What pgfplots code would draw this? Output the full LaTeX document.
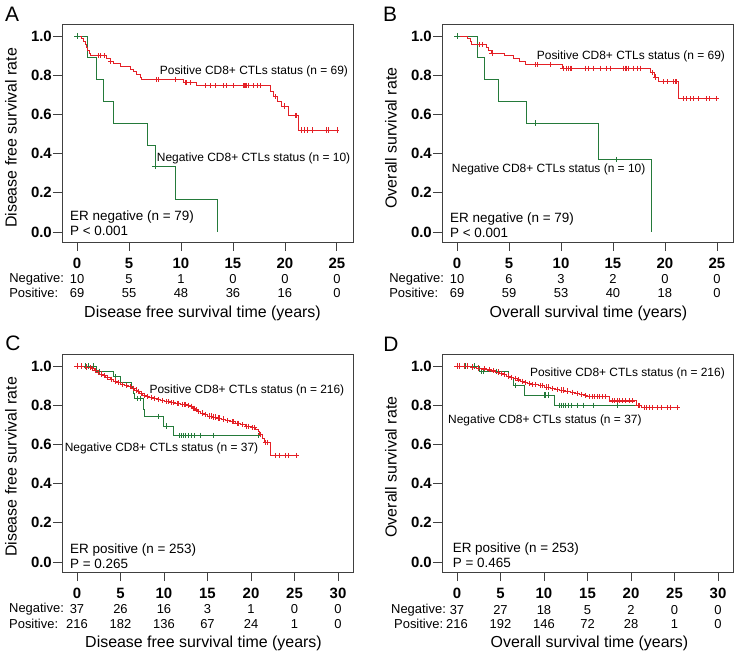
\documentclass[border=0pt]{standalone}
\usepackage{fontspec}
\setmainfont{Liberation Sans}
\usepackage{pgfplots}
\pgfplotsset{compat=1.18}
\usetikzlibrary{calc}

\definecolor{kmred}{RGB}{228,32,38}
\definecolor{kmgreen}{RGB}{36,122,58}
\newcommand\fs[1]{\fontsize{#1}{#1}\selectfont}

\pgfplotsset{
  km/.style={
    scale only axis, width=291bp, height=218bp,
    ymin=-0.051, ymax=1.061,
    ytick={0,0.2,0.4,0.6,0.8,1},
    tick pos=left, tick align=outside, major tick length=9bp,
    axis line style={draw=black!75, line width=0.8pt},
    tick style={draw=black!75, line width=0.8pt},
    tick label style={font=\fs{15}\bfseries},
    /pgf/number format/assume math mode=true,
    yticklabel style={/pgf/number format/fixed, /pgf/number format/fixed zerofill,
      /pgf/number format/precision=1, inner xsep=1pt},
    xticklabel style={yshift=-3.5bp},
    clip=false,
  },
  kmab/.style={km, xmin=-1.45, xmax=26.55, xtick={0,5,10,15,20,25}},
  kmcd/.style={km, xmin=-1.72, xmax=31.72, xtick={0,5,10,15,20,25,30}},
}
\tikzset{
  kmline/.style={const plot, line width=0.8pt, no markers},
  kmcens/.style={only marks, mark=+, mark size=2.6bp, mark options={line width=0.7pt}},
  ann/.style={font=\fs{12}, inner sep=0pt, anchor=west},
  er/.style={font=\fs{13.5}, inner sep=0pt, anchor=west},
  rk/.style={font=\fs{13}, inner sep=0pt},
  rl/.style={font=\fs{13}, inner sep=0pt, anchor=west, xshift=-68bp},
  lab/.style={font=\fs{16}, inner sep=0pt},
  let/.style={font=\fs{21}, inner sep=0pt},
}

\begin{document}
\begin{tikzpicture}
\path[use as bounding box] (0,0) rectangle (739bp,658bp);

% ---------------- A ----------------
\begin{axis}[kmab, at={(62bp,416bp)}, anchor=south west]
\addplot[kmgreen, kmline] coordinates {(0,1)(0.97,0.889)(1.87,0.778)(2.53,0.667)(3.47,0.556)(6.73,0.444)(7.5,0.333)(9.49,0.167)(13.55,0)};
\addplot[kmgreen, kmcens] coordinates {(0,1)(7.5,0.333)};
\addplot[kmred, kmline] coordinates {(0,1)(0.45,0.986)(0.61,0.971)(0.77,0.957)(0.87,0.942)(0.99,0.928)(1.19,0.913)(1.3,0.899)(2.85,0.885)(3.17,0.871)(3.5,0.858)(4.13,0.844)(5.1,0.831)(5.4,0.817)(5.7,0.804)(6.06,0.790)(6.2,0.777)(10.2,0.762)(11.5,0.746)(18.56,0.718)(18.9,0.690)(19.3,0.667)(19.7,0.643)(20.3,0.594)(21.3,0.520)(25.0,0.520)};
\addplot[kmred, kmcens] coordinates {(2.05,0.899)(2.21,0.899)(2.63,0.899)(3.25,0.871)(7.66,0.777)(7.8,0.777)(9.5,0.777)(10.4,0.762)(10.55,0.762)(10.9,0.762)(12.3,0.746)(12.8,0.746)(13.3,0.746)(14.1,0.746)(14.4,0.746)(15.0,0.746)(16.0,0.746)(16.1,0.746)(16.2,0.746)(16.3,0.746)(16.45,0.746)(17.0,0.746)(17.3,0.746)(17.6,0.746)(19.1,0.690)(19.9,0.643)(21.0,0.594)(21.1,0.594)(21.6,0.520)(21.9,0.520)(22.2,0.520)(22.6,0.520)(24.0,0.520)(24.2,0.520)(25.0,0.520)};
\node[ann] at (axis cs:7.95,0.82) {Positive CD8+ CTLs status (n = 69)};
\node[ann] at (axis cs:7.66,0.375) {Negative CD8+ CTLs status (n = 10)};
\node[er] at (axis cs:-0.68,0.078) {ER negative (n = 79)};
\node[er] at (axis cs:-0.68,0.005) {P < 0.001};
\node[rl] at (axis cs:0,-0.24) {Negative:};
\node[rl] at (axis cs:0,-0.312) {Positive:};
\node[rk] at (axis cs:0,-0.24) {10};
\node[rk] at (axis cs:5,-0.24) {5};
\node[rk] at (axis cs:10,-0.24) {1};
\node[rk] at (axis cs:15,-0.24) {0};
\node[rk] at (axis cs:20,-0.24) {0};
\node[rk] at (axis cs:25,-0.24) {0};
\node[rk] at (axis cs:0,-0.312) {69};
\node[rk] at (axis cs:5,-0.312) {55};
\node[rk] at (axis cs:10,-0.312) {48};
\node[rk] at (axis cs:15,-0.312) {36};
\node[rk] at (axis cs:20,-0.312) {16};
\node[rk] at (axis cs:25,-0.312) {0};
\node[lab] at ($(rel axis cs:0.5,0)+(-5bp,-71bp)$) {Disease free survival time (years)};
\node[lab, rotate=90] at ($(rel axis cs:0,0.5)+(-51bp,-5bp)$) {Disease free survival rate};
\node[let] at ($(rel axis cs:0,1)+(-50bp,10bp)$) {A};
\end{axis}

% ---------------- B ----------------
\begin{axis}[kmab, at={(442bp,416bp)}, anchor=south west]
\addplot[kmgreen, kmline] coordinates {(0,1)(1.95,0.889)(2.6,0.778)(3.97,0.667)(6.63,0.556)(13.6,0.370)(18.65,0)};
\addplot[kmgreen, kmcens] coordinates {(0,1)(7.56,0.556)(15.3,0.370)};
\addplot[kmred, kmline] coordinates {(0,1)(1.03,0.986)(1.3,0.971)(1.4,0.957)(2.85,0.942)(3.05,0.928)(3.3,0.913)(4.6,0.899)(5.4,0.884)(6.0,0.868)(6.6,0.853)(10.1,0.836)(18.56,0.814)(19.0,0.791)(19.4,0.766)(21.3,0.680)(24.97,0.680)};
\addplot[kmred, kmcens] coordinates {(2.1,0.957)(2.4,0.957)(3.35,0.913)(7.56,0.853)(7.72,0.853)(8.94,0.853)(10.2,0.836)(10.5,0.836)(10.7,0.836)(10.9,0.836)(11.0,0.836)(12.3,0.836)(12.6,0.836)(13.1,0.836)(13.75,0.836)(14.4,0.836)(14.7,0.836)(16.0,0.836)(16.15,0.836)(16.3,0.836)(16.5,0.836)(16.95,0.836)(17.3,0.836)(17.6,0.836)(18.8,0.814)(19.1,0.791)(19.8,0.766)(20.2,0.766)(20.8,0.766)(20.96,0.766)(21.1,0.766)(21.76,0.680)(22.1,0.680)(22.4,0.680)(22.7,0.680)(23.2,0.680)(24.0,0.680)(24.3,0.680)(24.97,0.680)};
\node[ann] at (axis cs:7.66,0.897) {Positive CD8+ CTLs status (n = 69)};
\node[ann] at (axis cs:-0.51,0.32) {Negative CD8+ CTLs status (n = 10)};
\node[er] at (axis cs:-0.68,0.066) {ER negative (n = 79)};
\node[er] at (axis cs:-0.68,-0.004) {P < 0.001};
\node[rl] at (axis cs:0,-0.24) {Negative:};
\node[rl] at (axis cs:0,-0.312) {Positive:};
\node[rk] at (axis cs:0,-0.24) {10};
\node[rk] at (axis cs:5,-0.24) {6};
\node[rk] at (axis cs:10,-0.24) {3};
\node[rk] at (axis cs:15,-0.24) {2};
\node[rk] at (axis cs:20,-0.24) {0};
\node[rk] at (axis cs:25,-0.24) {0};
\node[rk] at (axis cs:0,-0.312) {69};
\node[rk] at (axis cs:5,-0.312) {59};
\node[rk] at (axis cs:10,-0.312) {53};
\node[rk] at (axis cs:15,-0.312) {40};
\node[rk] at (axis cs:20,-0.312) {18};
\node[rk] at (axis cs:25,-0.312) {0};
\node[lab] at ($(rel axis cs:0.5,0)+(1bp,-71bp)$) {Overall survival time (years)};
\node[lab, rotate=90] at ($(rel axis cs:0,0.5)+(-51bp,-5bp)$) {Overall survival rate};
\node[let] at ($(rel axis cs:0,1)+(-52bp,10bp)$) {B};
\end{axis}

% ---------------- C ----------------
\begin{axis}[kmcd, at={(62bp,86bp)}, anchor=south west]
\addplot[kmgreen, kmline] coordinates {(0,1)(2.2,0.973)(4.2,0.946)(5.0,0.918)(6.3,0.890)(6.45,0.862)(6.6,0.834)(7.6,0.806)(7.65,0.778)(7.7,0.742)(9.9,0.694)(11.1,0.646)(20.9,0.646)};
\addplot[kmgreen, kmcens] coordinates {(1.0,1)(1.3,1)(1.85,1)(2.6,0.973)(4.4,0.946)(6.9,0.834)(7.3,0.834)(9.3,0.742)(10.3,0.694)(11.8,0.646)(12.0,0.646)(12.2,0.646)(12.5,0.646)(12.8,0.646)(13.1,0.646)(13.5,0.646)(14.2,0.646)(15.7,0.646)(20.9,0.646)};
\addplot[kmred, kmline] coordinates {(0,1)(0.8,0.995)(1.3,0.991)(1.6,0.986)(2.0,0.977)(2.3,0.968)(2.6,0.959)(3.0,0.950)(3.3,0.941)(3.8,0.932)(4.2,0.923)(4.6,0.914)(5.0,0.905)(5.5,0.900)(5.9,0.895)(6.3,0.886)(6.6,0.877)(6.9,0.868)(7.2,0.859)(7.5,0.850)(7.9,0.845)(8.3,0.840)(8.7,0.835)(9.2,0.829)(9.6,0.823)(10.1,0.818)(10.7,0.813)(11.3,0.808)(11.9,0.804)(12.6,0.800)(13.0,0.794)(13.3,0.785)(13.6,0.776)(13.9,0.768)(14.2,0.760)(14.6,0.752)(15.0,0.745)(15.5,0.740)(16.0,0.735)(16.6,0.729)(17.1,0.722)(17.6,0.715)(18.2,0.708)(18.8,0.700)(19.3,0.692)(20.0,0.686)(20.5,0.678)(20.8,0.665)(21.0,0.650)(21.3,0.630)(21.5,0.610)(22.2,0.543)(25.2,0.543)};
\addplot[kmred, kmcens] coordinates {(0,1.0)(0.5,1.0)(1.1,0.995)(1.5,0.991)(1.8,0.986)(2.1,0.977)(2.4,0.968)(2.8,0.959)(3.1,0.950)(3.5,0.941)(3.9,0.932)(4.4,0.923)(4.8,0.914)(5.2,0.905)(5.7,0.900)(6.1,0.895)(6.5,0.886)(6.8,0.877)(7.1,0.868)(7.4,0.859)(7.7,0.850)(8.1,0.845)(8.5,0.840)(8.9,0.835)(9.4,0.829)(9.8,0.823)(10.3,0.818)(10.5,0.818)(10.9,0.813)(11.1,0.813)(11.5,0.808)(11.7,0.808)(12.1,0.804)(12.3,0.804)(12.5,0.804)(12.8,0.800)(13.1,0.794)(13.2,0.794)(13.4,0.785)(13.5,0.785)(13.7,0.776)(14.0,0.768)(14.4,0.760)(14.8,0.752)(15.2,0.745)(15.4,0.745)(15.7,0.740)(15.9,0.740)(16.2,0.735)(16.4,0.735)(16.8,0.729)(17.3,0.722)(17.8,0.715)(18.0,0.715)(18.4,0.708)(18.6,0.708)(19.0,0.700)(19.5,0.692)(19.7,0.692)(20.2,0.686)(20.4,0.686)(21.1,0.650)(21.7,0.610)(21.9,0.610)(22.8,0.543)(23.2,0.543)(24.0,0.543)(24.3,0.543)(25.2,0.543)};
\node[ann] at (axis cs:8.32,0.877) {Positive CD8+ CTLs status (n = 216)};
\node[ann] at (axis cs:-1.42,0.577) {Negative CD8+ CTLs status (n = 37)};
\node[er] at (axis cs:-0.80,0.063) {ER positive (n = 253)};
\node[er] at (axis cs:-0.80,-0.012) {P = 0.265};
\node[rl] at (axis cs:0,-0.24) {Negative:};
\node[rl] at (axis cs:0,-0.318) {Positive:};
\node[rk] at (axis cs:0,-0.24) {37};
\node[rk] at (axis cs:5,-0.24) {26};
\node[rk] at (axis cs:10,-0.24) {16};
\node[rk] at (axis cs:15,-0.24) {3};
\node[rk] at (axis cs:20,-0.24) {1};
\node[rk] at (axis cs:25,-0.24) {0};
\node[rk] at (axis cs:30,-0.24) {0};
\node[rk] at (axis cs:0,-0.318) {216};
\node[rk] at (axis cs:5,-0.318) {182};
\node[rk] at (axis cs:10,-0.318) {136};
\node[rk] at (axis cs:15,-0.318) {67};
\node[rk] at (axis cs:20,-0.318) {24};
\node[rk] at (axis cs:25,-0.318) {1};
\node[rk] at (axis cs:30,-0.318) {0};
\node[lab] at ($(rel axis cs:0.5,0)+(-4bp,-71bp)$) {Disease free survival time (years)};
\node[lab, rotate=90] at ($(rel axis cs:0,0.5)+(-51bp,-4bp)$) {Disease free survival rate};
\node[let] at ($(rel axis cs:0,1)+(-49bp,11bp)$) {C};
\end{axis}

% ---------------- D ----------------
\begin{axis}[kmcd, at={(442bp,86bp)}, anchor=south west]
\addplot[kmgreen, kmline] coordinates {(0,1)(2.6,0.973)(5.95,0.944)(6.45,0.900)(7.8,0.852)(11.25,0.800)(21.0,0.800)};
\addplot[kmgreen, kmcens] coordinates {(1.0,1)(2.0,1)(2.8,0.973)(3.0,0.973)(4.5,0.973)(6.7,0.900)(10.0,0.852)(10.2,0.852)(10.5,0.852)(11.8,0.800)(12.0,0.800)(12.2,0.800)(12.5,0.800)(12.8,0.800)(13.1,0.800)(13.8,0.800)(14.5,0.800)(15.7,0.800)(18.4,0.800)(20.9,0.800)};
\addplot[kmred, kmline] coordinates {(0,1)(1.5,0.995)(2.2,0.990)(2.8,0.985)(3.4,0.980)(4.0,0.975)(4.5,0.969)(4.9,0.962)(5.3,0.955)(5.7,0.949)(6.1,0.943)(6.5,0.936)(6.9,0.929)(7.3,0.922)(7.7,0.916)(8.1,0.910)(8.5,0.904)(9.3,0.900)(10.0,0.893)(10.7,0.886)(11.3,0.881)(11.8,0.877)(12.4,0.872)(13.0,0.866)(13.6,0.861)(14.1,0.856)(14.6,0.848)(14.9,0.843)(17.5,0.822)(20.6,0.797)(21.2,0.788)(25.3,0.788)};
\addplot[kmred, kmcens] coordinates {(0,1)(0.3,1)(0.8,1)(1.2,1)(1.8,0.995)(2.5,0.990)(3.1,0.985)(3.7,0.980)(4.2,0.975)(4.7,0.969)(5.1,0.962)(5.5,0.955)(5.9,0.949)(6.3,0.943)(6.7,0.936)(7.1,0.929)(7.5,0.922)(7.9,0.916)(8.3,0.910)(8.7,0.904)(9.0,0.904)(9.6,0.900)(9.8,0.900)(10.3,0.893)(10.5,0.893)(11.0,0.886)(11.5,0.881)(12.0,0.877)(12.2,0.877)(12.7,0.872)(13.3,0.866)(13.8,0.861)(14.3,0.856)(14.75,0.848)(15.2,0.843)(15.5,0.843)(15.8,0.843)(16.1,0.843)(16.4,0.843)(16.7,0.843)(17.0,0.843)(17.8,0.822)(18.1,0.822)(18.4,0.822)(18.7,0.822)(19.0,0.822)(19.4,0.822)(19.8,0.822)(20.2,0.822)(20.8,0.797)(21.0,0.797)(21.5,0.788)(21.8,0.788)(22.1,0.788)(22.5,0.788)(23.0,0.788)(23.5,0.788)(24.2,0.788)(24.5,0.788)(25.3,0.788)};
\node[ann] at (axis cs:8.38,0.961) {Positive CD8+ CTLs status (n = 216)};
\node[ann] at (axis cs:-1.03,0.724) {Negative CD8+ CTLs status (n = 37)};
\node[er] at (axis cs:-0.50,0.066) {ER positive (n = 253)};
\node[er] at (axis cs:-0.50,-0.005) {P = 0.465};
\node[rl, xshift=2bp] at (axis cs:0,-0.245) {Negative:};
\node[rl, xshift=5bp] at (axis cs:0,-0.318) {Positive:};
\node[rk] at (axis cs:0,-0.245) {37};
\node[rk] at (axis cs:5,-0.245) {27};
\node[rk] at (axis cs:10,-0.245) {18};
\node[rk] at (axis cs:15,-0.245) {5};
\node[rk] at (axis cs:20,-0.245) {2};
\node[rk] at (axis cs:25,-0.245) {0};
\node[rk] at (axis cs:30,-0.245) {0};
\node[rk] at (axis cs:0,-0.318) {216};
\node[rk] at (axis cs:5,-0.318) {192};
\node[rk] at (axis cs:10,-0.318) {146};
\node[rk] at (axis cs:15,-0.318) {72};
\node[rk] at (axis cs:20,-0.318) {28};
\node[rk] at (axis cs:25,-0.318) {1};
\node[rk] at (axis cs:30,-0.318) {0};
\node[lab] at ($(rel axis cs:0.5,0)+(2bp,-71bp)$) {Overall survival time (years)};
\node[lab, rotate=90] at ($(rel axis cs:0,0.5)+(-51bp,-4bp)$) {Overall survival rate};
\node[let] at ($(rel axis cs:0,1)+(-51bp,10bp)$) {D};
\end{axis}
\end{tikzpicture}
\end{document}
